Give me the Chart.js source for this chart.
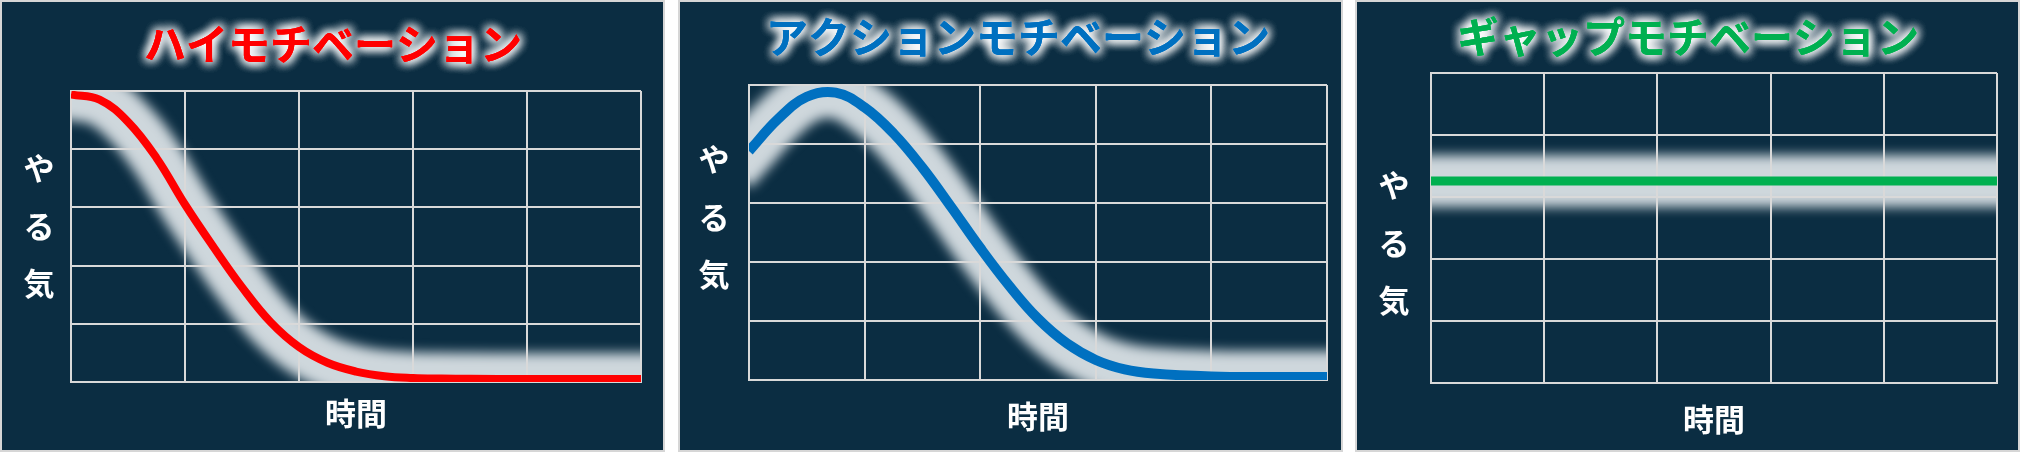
<!DOCTYPE html>
<html>
<head>
<meta charset="utf-8">
<script src="https://cdn.jsdelivr.net/npm/chart.js@4/dist/chart.umd.min.js"></script>
<style>
    body { margin: 0; width: 2021px; height: 452px; background: #ffffff; position: relative; overflow: hidden; }
    .panel { position: absolute; top: 0; width: 661px; height: 448px; border: 2px solid #d6d6d6; background: #0b2d42; }
    canvas { display: block; }
</style>
</head>
<body>
<div class="panel" style="left:0px"><canvas id="high-motivation" width="661" height="448"></canvas></div>
<div class="panel" style="left:678px"><canvas id="action-motivation" width="661" height="448"></canvas></div>
<div class="panel" style="left:1355px"><canvas id="gap-motivation" width="661" height="448"></canvas></div>
<script>
// values (x: 時間 0-5, y: やる気 0-5)
const timeSteps = [0, 0.25, 0.5, 0.75, 1, 1.25, 1.5, 1.75, 2, 2.25, 2.5, 2.75, 3, 3.25, 3.5, 4, 4.5, 5];
const highMotivation = [4.94, 4.85, 4.47, 3.85, 3.05, 2.32, 1.63, 1.03, 0.6, 0.33, 0.18, 0.1, 0.07, 0.06, 0.055, 0.05, 0.05, 0.05];
const actionMotivation = [3.88, 4.42, 4.8, 4.87, 4.62, 4.18, 3.6, 2.93, 2.24, 1.6, 1.04, 0.62, 0.34, 0.18, 0.11, 0.06, 0.05, 0.05];
const gapTime = [0, 5];
const gapMotivation = [3.26, 3.26];

const titles = ['ハイモチベーション', 'アクションモチベーション', 'ギャップモチベーション'];
const yLabel = 'やる気';
const xLabel = '時間';

const FONT = "'Noto Sans CJK JP', 'Noto Sans', sans-serif";
const GRID = '#d9d9d9';

const $$ = (id) => document.getElementById(id);
const toPoints = (xs, ys) => xs.map((x, i) => ({ x: x, y: ys[i] }));

// glow dataset is drawn under the grid, blurred, in beforeDraw
const glowPlugin = {
    id: 'glow',
    beforeDatasetDraw(chart, args) {
        if (chart.data.datasets[args.index].glow) return false;
    },
    beforeDraw(chart) {
        const ctx = chart.ctx;
        const a = chart.chartArea;
        chart.data.datasets.forEach((ds, i) => {
            if (!ds.glow) return;
            const meta = chart.getDatasetMeta(i);
            ctx.save();
            ctx.beginPath();
            ctx.rect(a.left, a.top, a.right - a.left, a.bottom - a.top);
            ctx.clip();
            ctx.filter = 'blur(6px)';
            meta.dataset.draw(ctx, a);
            ctx.restore();
        });
    }
};

// panel title with white halo and the upright vertical y label
const panelText = {
    id: 'panelText',
    afterDraw(chart, args, opts) {
        const ctx = chart.ctx;
        ctx.save();
        ctx.textAlign = 'center';
        ctx.textBaseline = 'middle';
        ctx.font = 'bold 42px ' + FONT;
        ctx.fillStyle = opts.color;
        ctx.shadowColor = '#ffffff';
        ctx.shadowBlur = 11;
        for (let k = 0; k < 4; k++) ctx.fillText(opts.text, opts.titleX, opts.titleY);
        ctx.shadowBlur = 0;
        ctx.fillText(opts.text, opts.titleX, opts.titleY);

        ctx.font = 'bold 31px ' + FONT;
        ctx.fillStyle = '#ffffff';
        Array.from(yLabel).forEach((ch, k) => {
            ctx.fillText(ch, opts.labelX, opts.labelY + (k - 1) * 57.5);
        });
        ctx.restore();
    }
};

const SetData = (xs, ys, color, width) => {
    return {
        datasets: [{
            glow: true,
            data: toPoints(xs, ys),
            borderColor: 'rgb(206,215,220)',
            borderWidth: 52,
            borderCapStyle: 'square',
            tension: 0.4,
            pointRadius: 0,
            clip: 0
        },
        {
            data: toPoints(xs, ys),
            borderColor: color,
            borderWidth: width,
            tension: 0.4,
            pointRadius: 0
        }]
    };
};

const CreateConfig = (data, color, title, box) => {
    const axis = {
        type: 'linear',
        min: 0,
        max: 5,
        ticks: { display: false, stepSize: 1 },
        grid: { color: GRID, lineWidth: 2, drawTicks: false },
        border: { color: GRID, width: 2 }
    };
    return {
        type: 'line',
        data: data,
        plugins: [glowPlugin, panelText],
        options: {
            responsive: false,
            animation: false,
            events: [],
            layout: {
                autoPadding: false,
                padding: { left: box.left, right: box.right, top: box.top, bottom: box.bottom }
            },
            plugins: {
                legend: { display: false },
                tooltip: { enabled: false },
                panelText: {
                    text: title,
                    color: color,
                    titleX: box.titleX,
                    titleY: box.titleY,
                    labelX: box.labelX,
                    labelY: box.labelY
                }
            },
            scales: {
                x: Object.assign({}, axis, {
                    title: {
                        display: true,
                        text: xLabel,
                        color: '#ffffff',
                        font: { family: FONT, size: 31, weight: 'bold', lineHeight: 1.2 },
                        padding: { top: box.xTitleGap, bottom: 0 }
                    }
                }),
                y: axis
            }
        }
    };
};

const CreateHighChart = () => {
    new Chart($$('high-motivation'), CreateConfig(SetData(timeSteps, highMotivation, '#ff0000', 8), '#ff0000', titles[0],
        { left: 69, right: 22, top: 89, bottom: 18.4, xTitleGap: 12.4, titleX: 331, titleY: 42, labelX: 37, labelY: 224 }));
};

const CreateActionChart = () => {
    new Chart($$('action-motivation'), CreateConfig(SetData(timeSteps, actionMotivation, '#0070c0', 10), '#0070c0', titles[1],
        { left: 69, right: 14, top: 83, bottom: 15.4, xTitleGap: 17.4, titleX: 338, titleY: 35, labelX: 34, labelY: 215 }));
};

const CreateGapChart = () => {
    new Chart($$('gap-motivation'), CreateConfig(SetData(gapTime, gapMotivation, '#00b050', 9), '#00b050', titles[2],
        { left: 74, right: 21, top: 71, bottom: 12.4, xTitleGap: 17.4, titleX: 331, titleY: 35, labelX: 37, labelY: 241 }));
};

CreateHighChart();
CreateActionChart();
CreateGapChart();
</script>
</body>
</html>
